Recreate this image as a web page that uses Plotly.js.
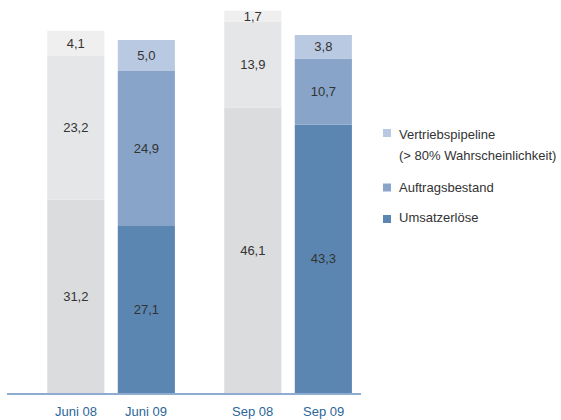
<!DOCTYPE html>
<html><head><meta charset="utf-8">
<script src="https://cdn.plot.ly/plotly-3.0.1.min.js"></script>
<style>html,body{margin:0;padding:0;background:#fff;}#chart{width:561px;height:420px;}</style>
</head><body><div id="chart"></div>
<script>
// ---- data ----
var categories = ["Juni", "Sep"];
var years = ["08", "09"];
var umsatz08 = [31.2, 46.1];
var auftrag08 = [23.2, 13.9];
var pipeline08 = [4.1, 1.7];
var umsatz09 = [27.1, 43.3];
var auftrag09 = [24.9, 10.7];
var pipeline09 = [5.0, 3.8];
var seriesNames = ["Umsatzerlöse", "Auftragsbestand", "Vertriebspipeline"];
var legendLines = ["Vertriebspipeline", "(> 80% Wahrscheinlichkeit)", "Auftragsbestand", "Umsatzerlöse"];

// ---- styles ----
var FONT = "'Liberation Sans', Arial, sans-serif";
var greyColors = ["#dbdcde", "#e5e6e8", "#efefef"];
var blueColors = ["#5b86b1", "#88a5c9", "#b9c9e1"];
var W = 561, H = 420, M = {l: 7, r: 200, t: 9, b: 27};
var BARGAP = 0.203, GROUPGAP = 0.19;

function fmt(v) { return v.toFixed(1).replace('.', ','); }
function addArr(a, b) { return a.map(function (v, i) { return v + b[i]; }); }

var groups = [
  {year: years[0], segs: [umsatz08, auftrag08, pipeline08], colors: greyColors},
  {year: years[1], segs: [umsatz09, auftrag09, pipeline09], colors: blueColors}
];

var traces = [];
groups.forEach(function (g) {
  var base = categories.map(function () { return 0; });
  g.segs.forEach(function (vals, k) {
    traces.push({
      type: 'bar', x: categories, y: vals, base: base.slice(),
      offsetgroup: g.year, name: seriesNames[k] + ' ' + g.year,
      marker: {color: g.colors[k], line: {width: 0}},
      text: vals.map(fmt), textposition: 'inside', insidetextanchor: 'middle',
      textfont: {family: FONT, size: 13, color: '#333333'},
      showlegend: false, hoverinfo: 'skip'
    });
    base = addArr(base, vals);
  });
});

// geometry helpers for labels
var plotW = W - M.l - M.r, plotH = H - M.t - M.b;
var xRange = [-0.588, 1.412];
var unitPx = plotW / (xRange[1] - xRange[0]);
var slotPx = unitPx * (1 - BARGAP) / 2;

var annotations = [];
categories.forEach(function (c) {
  years.forEach(function (y, j) {
    annotations.push({
      x: c, xref: 'x', y: 0, yref: 'y', xanchor: 'center', yanchor: 'middle',
      xshift: (j - 0.5) * slotPx, yshift: -18, showarrow: false,
      text: c + ' ' + y, font: {family: FONT, size: 13, color: '#2b6699'}
    });
  });
});

function px2x(p) { return (p - M.l) / plotW; }
function px2y(p) { return (H - M.b - p) / plotH; }
var legendY = [134, 155, 187, 218];
var legendSq = [{y: 133, c: blueColors[2]}, {y: 187.5, c: blueColors[1]}, {y: 219, c: blueColors[0]}];
legendLines.forEach(function (t, i) {
  annotations.push({
    x: px2x(397), xref: 'paper', y: px2y(legendY[i]), yref: 'paper',
    xanchor: 'left', yanchor: 'middle', showarrow: false, text: t,
    font: {family: FONT, size: 13, color: '#333333'}
  });
});
var shapes = legendSq.map(function (s) {
  return {type: 'rect', xref: 'paper', yref: 'paper',
    x0: px2x(383), x1: px2x(391), y0: px2y(s.y - 4), y1: px2y(s.y + 4),
    fillcolor: s.c, line: {width: 0}};
});

var layout = {
  width: W, height: H, margin: M, paper_bgcolor: '#fff', plot_bgcolor: '#fff',
  barmode: 'group', bargap: BARGAP, bargroupgap: GROUPGAP,
  uniformtext: {mode: 'show', minsize: 13},
  showlegend: false,
  xaxis: {type: 'category', range: xRange, showticklabels: false, ticks: '',
    showgrid: false, zeroline: false, showline: true, linecolor: '#8eacd0', linewidth: 1.5, fixedrange: true},
  yaxis: {range: [0, 62], visible: false, showgrid: false, zeroline: false, fixedrange: true},
  annotations: annotations, shapes: shapes,
  font: {family: FONT}
};
Plotly.newPlot('chart', traces, layout, {staticPlot: true, displayModeBar: false});
</script></body></html>
